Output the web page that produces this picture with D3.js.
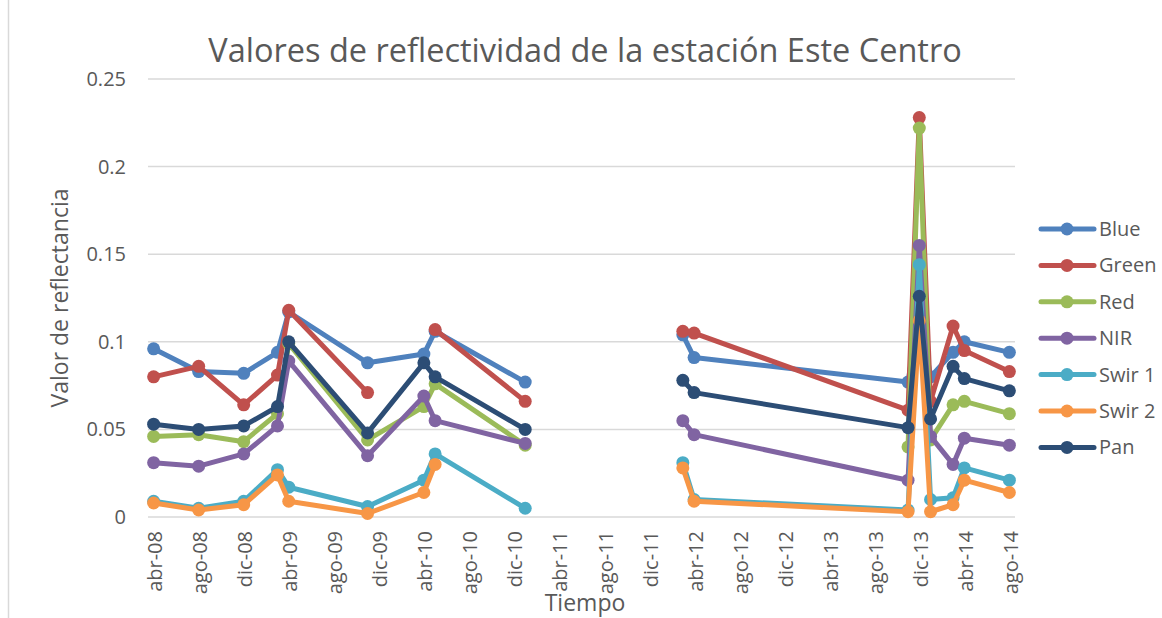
<!DOCTYPE html>
<html>
<head>
<meta charset="utf-8">
<script src="https://cdn.jsdelivr.net/npm/d3@7"></script>
<style>
  body { margin: 0; background: #fff; }
  text { font-family: "Open Sans", sans-serif; fill: #595959; }
</style>
</head>
<body>
<svg id="chart" width="1162" height="618"></svg>
<script>
// fechas de las escenas (mes), la fila 2011-08 esta vacia en la hoja
const months = ["2008-04", "2008-08", "2008-12", "2009-03", "2009-04", "2009-11", "2010-04", "2010-05", "2011-01",
    "2011-08", "2012-03", "2012-04", "2013-11", "2013-12", "2014-01", "2014-03", "2014-04", "2014-08"];

const blue  = [0.096, 0.083, 0.082, 0.094, 0.117, 0.088, 0.093, 0.106, 0.077, null, 0.104, 0.091, 0.077, 0.118, 0.080, 0.094, 0.100, 0.094];
const green = [0.080, 0.086, 0.064, 0.081, 0.118, 0.071, null, 0.107, 0.066, null, 0.106, 0.105, 0.061, 0.228, 0.066, 0.109, 0.095, 0.083];
const red   = [0.046, 0.047, 0.043, 0.059, 0.099, 0.044, 0.063, 0.076, 0.041, null, null, null, 0.040, 0.222, 0.044, 0.064, 0.066, 0.059];
const nir   = [0.031, 0.029, 0.036, 0.052, 0.089, 0.035, 0.069, 0.055, 0.042, null, 0.055, 0.047, 0.021, 0.155, 0.046, 0.030, 0.045, 0.041];
const swir1 = [0.009, 0.005, 0.009, 0.027, 0.017, 0.006, 0.021, 0.036, 0.005, null, 0.031, 0.010, 0.004, 0.144, 0.010, 0.011, 0.028, 0.021];
const swir2 = [0.008, 0.004, 0.007, 0.024, 0.009, 0.002, 0.014, 0.030, null, null, 0.028, 0.009, 0.003, 0.112, 0.003, 0.007, 0.021, 0.014];
const pan   = [0.053, 0.050, 0.052, 0.063, 0.100, 0.048, 0.088, 0.080, 0.050, null, 0.078, 0.071, 0.051, 0.126, 0.056, 0.086, 0.079, 0.072];

const seriesNames = ["Blue", "Green", "Red", "NIR", "Swir 1", "Swir 2", "Pan"];
const seriesValues = [blue, green, red, nir, swir1, swir2, pan];
const seriesColors = ["#4F81BD", "#C0504D", "#9BBB59", "#8064A2", "#4BACC6", "#F79646", "#2C4D75"];

const yTicks = [0, 0.05, 0.1, 0.15, 0.2, 0.25];
const yTickLabels = ["0", "0.05", "0.1", "0.15", "0.2", "0.25"];

const es = d3.timeFormatLocale({
    dateTime: "%A, %e de %B de %Y, %X", date: "%d/%m/%Y", time: "%H:%M:%S", periods: ["AM", "PM"],
    days: ["domingo", "lunes", "martes", "miércoles", "jueves", "viernes", "sábado"],
    shortDays: ["dom", "lun", "mar", "mié", "jue", "vie", "sáb"],
    months: ["enero", "febrero", "marzo", "abril", "mayo", "junio", "julio", "agosto", "septiembre", "octubre", "noviembre", "diciembre"],
    shortMonths: ["ene", "feb", "mar", "abr", "may", "jun", "jul", "ago", "sep", "oct", "nov", "dic"]
});
const fmtTick = es.format("%b-%y");
const parseMonth = d3.timeParse("%Y-%m");
const keyMonth = d3.timeFormat("%Y-%m");

const plotLeft = 148, plotRight = 1015, plotTop = 79, plotBottom = 517;

const svg = d3.select("#chart");

// marco
svg.append("line")
    .attr("x1", 8.5).attr("x2", 8.5).attr("y1", 0).attr("y2", 618)
    .attr("stroke", "#d9d9d9").attr("stroke-width", 1.5);

const allMonths = d3.timeMonth.range(parseMonth(months[0]), d3.timeMonth.offset(parseMonth(months[months.length - 1]), 1)).map(keyMonth);

const x = d3.scaleBand()
    .domain(allMonths)
    .range([plotLeft, plotRight])
    .paddingInner(0).paddingOuter(0);
const bw = x.bandwidth();

const y = d3.scaleLinear()
    .domain([0, 0.25])
    .range([plotBottom, plotTop]);

// lineas de division
svg.append("g")
    .selectAll("line")
    .data(yTicks)
    .enter()
    .append("line")
    .attr("x1", plotLeft).attr("x2", plotRight)
    .attr("y1", d => y(d)).attr("y2", d => y(d))
    .attr("stroke", "#d9d9d9")
    .attr("stroke-width", 1.5);

const yAxis = svg.append("g")
    .attr("transform", "translate(" + plotLeft + ",0)")
    .call(d3.axisLeft(y).tickValues(yTicks).tickFormat((d, i) => yTickLabels[i]).tickSize(0).tickPadding(22));
yAxis.select(".domain").remove();
yAxis.selectAll("text").style("font-size", "20px").attr("fill", "#595959");

const xAxis = svg.append("g")
    .attr("transform", "translate(0," + plotBottom + ")")
    .call(d3.axisBottom(x)
        .tickValues(allMonths.filter((d, i) => i % 4 === 0))
        .tickFormat(k => fmtTick(parseMonth(k)))
        .tickSize(0));
xAxis.select(".domain").remove();
xAxis.selectAll("text")
    .style("font-size", "20px")
    .attr("fill", "#595959")
    .attr("transform", "rotate(-90)")
    .attr("text-anchor", "end")
    .attr("x", -14)
    .attr("y", 1.5)
    .attr("dy", "0.35em");

// series
const line = d3.line()
    .defined(d => d.v != null)
    .x(d => x(d.m) + bw / 2)
    .y(d => y(d.v));

seriesNames.forEach((name, si) => {
    const pts = months.map((m, i) => ({m: m, v: seriesValues[si][i]}));
    const g = svg.append("g");
    g.append("path")
        .datum(pts)
        .attr("d", line)
        .attr("fill", "none")
        .attr("stroke", seriesColors[si])
        .attr("stroke-width", 5)
        .attr("stroke-linejoin", "round")
        .attr("stroke-linecap", "round");
    g.selectAll("circle")
        .data(pts.filter(d => d.v != null))
        .enter()
        .append("circle")
        .attr("cx", d => x(d.m) + bw / 2)
        .attr("cy", d => y(d.v))
        .attr("r", 6.5)
        .attr("fill", seriesColors[si]);
});

// titulos
svg.append("text")
    .attr("x", 585).attr("y", 62)
    .attr("text-anchor", "middle")
    .style("font-size", "32.5px")
    .text("Valores de reflectividad de la estación Este Centro");

svg.append("text")
    .attr("transform", "translate(68,298) rotate(-90)")
    .attr("text-anchor", "middle")
    .style("font-size", "23px")
    .text("Valor de reflectancia");

svg.append("text")
    .attr("x", 585).attr("y", 611)
    .attr("text-anchor", "middle")
    .style("font-size", "23px")
    .text("Tiempo");

// leyenda
const legend = svg.append("g");
const items = legend.selectAll("g")
    .data(seriesNames)
    .enter()
    .append("g")
    .attr("transform", (d, i) => "translate(0," + (229 + i * 36.4) + ")");
items.append("line")
    .attr("x1", 1041).attr("x2", 1094)
    .attr("stroke", (d, i) => seriesColors[i])
    .attr("stroke-width", 5)
    .attr("stroke-linecap", "round");
items.append("circle")
    .attr("cx", 1067).attr("r", 6.5)
    .attr("fill", (d, i) => seriesColors[i]);
items.append("text")
    .attr("x", 1099).attr("dy", "0.35em")
    .style("font-size", "20px")
    .text(d => d);
</script>
</body>
</html>
